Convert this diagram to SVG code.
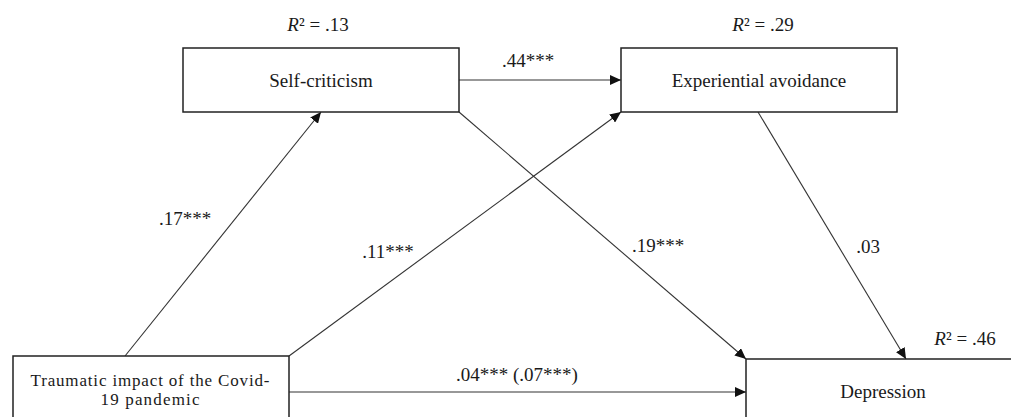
<svg xmlns="http://www.w3.org/2000/svg" width="1011" height="417" viewBox="0 0 1011 417">
<style>
text{font-family:"Liberation Serif","Times New Roman",serif;font-size:19px;fill:#1a1a1a;}
.box{fill:#fff;stroke:#222;stroke-width:1.5;}
.c{text-anchor:middle;}
.sm{font-size:17px;}
.ln{stroke:#333;stroke-width:1.1;fill:none;marker-end:url(#ah);}
</style>
<defs>
<marker id="ah" markerUnits="userSpaceOnUse" markerWidth="12" markerHeight="10" refX="11" refY="5" orient="auto">
<path d="M0,0 L11,5 L0,10 Z" fill="#111"/>
</marker>
</defs>
<g id="connectors">
<line class="ln" x1="125" y1="356" x2="321" y2="112"/>
<line class="ln" x1="289" y1="356" x2="621" y2="112"/>
<line class="ln" x1="459" y1="80" x2="621" y2="80"/>
<line class="ln" x1="459" y1="112" x2="746" y2="359"/>
<line class="ln" x1="758" y1="112" x2="906" y2="359"/>
<line class="ln" x1="289" y1="392" x2="746" y2="392"/>
</g>
<g id="labels">
<text class="c" x="185" y="225">.17***</text>
<text class="c" x="388" y="258">.11***</text>
<text class="c" x="528" y="67">.44***</text>
<text class="c" x="658" y="252">.19***</text>
<text class="c" x="868" y="253">.03</text>
<text class="c" x="517" y="381">.04*** (.07***)</text>
</g>
<g id="self-criticism">
<rect class="box" x="183" y="48" width="276" height="64"/>
<text class="c" x="321" y="87">Self-criticism</text>
<text class="c" x="318" y="31"><tspan font-style="italic">R</tspan>² = .13</text>
</g>
<g id="experiential-avoidance">
<rect class="box" x="621" y="48" width="276" height="64"/>
<text class="c" x="759" y="87">Experiential avoidance</text>
<text class="c" x="763" y="31"><tspan font-style="italic">R</tspan>² = .29</text>
</g>
<g id="traumatic-impact">
<rect class="box" x="13" y="356" width="276" height="80"/>
<text class="c sm" x="150" y="385.5" textLength="239" lengthAdjust="spacing">Traumatic impact of the Covid-</text>
<text class="c sm" x="150" y="405" textLength="99" lengthAdjust="spacing">19 pandemic</text>
</g>
<g id="depression">
<rect class="box" x="746" y="359" width="290" height="80"/>
<text class="c" x="883" y="398">Depression</text>
<text class="c" x="965" y="345"><tspan font-style="italic">R</tspan>² = .46</text>
</g>
</svg>
